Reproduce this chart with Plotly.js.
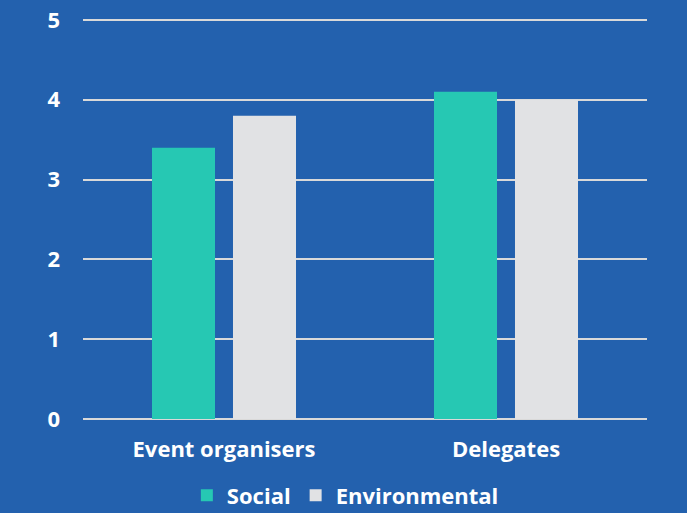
<!DOCTYPE html>
<html><head><meta charset="utf-8">
<script src="https://cdn.plot.ly/plotly-3.0.1.min.js"></script>
<style>html,body{margin:0;padding:0;background:#2361AE;}</style>
</head><body>
<div id="chart" style="width:687px;height:513px;"></div>
<script>
const categories = ["Event organisers", "Delegates"];
const socialValues = [3.4, 4.1];
const environmentalValues = [3.8, 4.0];
const seriesNames = ["Social", "Environmental"];

const traces = [
  {type:"bar", x:categories, y:socialValues, name:seriesNames[0],
   marker:{color:"#26C8B3"}},
  {type:"bar", x:categories, y:environmentalValues, name:seriesNames[1],
   marker:{color:"#E1E2E4"}}
];
const layout = {
  width:687, height:513,
  paper_bgcolor:"#2361AE", plot_bgcolor:"#2361AE",
  margin:{l:83, r:40, t:16, b:94, autoexpand:false},
  barmode:"group", bargap:0.4255, bargroupgap:0.222,
  font:{family:"'Open Sans', sans-serif", color:"#FFFFFF", size:20, weight:"bold"},
  xaxis:{showgrid:false, zeroline:false, showline:false, ticks:"",
         tickfont:{size:22, weight:"bold", color:"#FFFFFF"}, ticklabelstandoff:15},
  yaxis:{range:[0,5.05], tickvals:[0,1,2,3,4,5], showgrid:true, gridcolor:"#D9D9D9", gridwidth:2,
         zeroline:true, zerolinecolor:"#D9D9D9", zerolinewidth:2, showline:false,
         tickfont:{size:22, weight:"bold", color:"#FFFFFF"}, ticklabelstandoff:22},
  showlegend:true,
  legend:{orientation:"h", x:0.272, xanchor:"left", xref:"container", yref:"container", y:0.034, yanchor:"middle",
          font:{size:22, weight:"bold", color:"#FFFFFF"}, itemwidth:30, tracegroupgap:0}
};
Plotly.newPlot("chart", traces, layout, {displayModeBar:false});
</script>
</body></html>
